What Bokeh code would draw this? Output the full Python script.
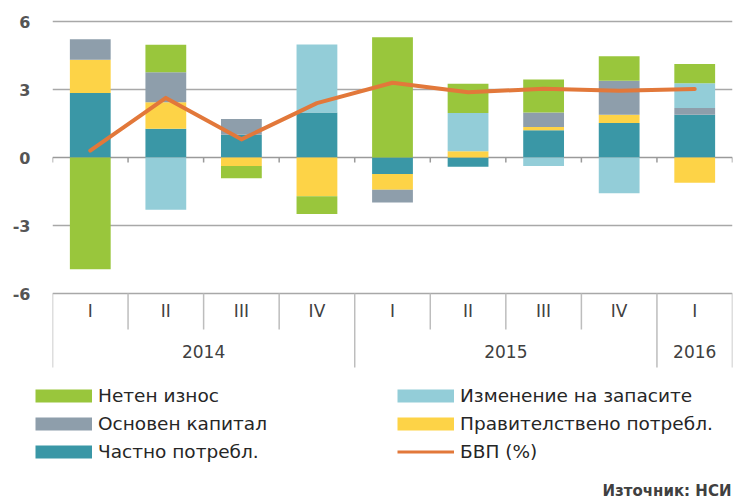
import numpy as np
from bokeh.plotting import figure
from bokeh.layouts import column
from bokeh.models import (FactorRange, Range1d, FixedTicker, Legend, LegendItem,
                          Label, Span, ColumnDataSource)
from bokeh.core.properties import value
from bokeh.embed import file_html
from bokeh.resources import INLINE

# ---------------- data ----------------
years = ["2014", "2014", "2014", "2014", "2015", "2015", "2015", "2015", "2016"]
quarters = ["I", "II", "III", "IV", "I", "II", "III", "IV", "I"]

private_cons = [2.85, 1.27, 1.00, 1.98, -0.73, -0.41, 1.20, 1.52, 1.89]
gov_cons = [1.46, 1.17, -0.38, -1.71, -0.69, 0.28, 0.15, 0.37, -1.11]
fixed_capital = [0.91, 1.32, 0.70, 0.00, -0.56, 0.00, 0.63, 1.50, 0.29]
inventories = [0.00, -2.30, 0.00, 3.00, 0.00, 1.68, -0.37, -1.58, 1.10]
net_exports = [-4.93, 1.21, -0.54, -0.78, 5.31, 1.29, 1.46, 1.08, 0.84]
gdp = [0.30, 2.63, 0.80, 2.40, 3.30, 2.88, 3.03, 2.95, 3.02]

y_ticks = [-6, -3, 0, 3, 6]
y_tick_labels = {-6: "-6", -3: "-3", 0: "0", 3: "3", 6: "6"}

label_private = "Частно потребл."
label_gov = "Правителствено потребл."
label_capital = "Основен капитал"
label_inv = "Изменение на запасите"
label_net = "Нетен износ"
label_gdp = "БВП (%)"
source_text = "Източник: НСИ"

# ---------------- style ----------------
TEAL = "#3a97a6"
YELLOW = "#fdd347"
GRAY = "#8e9eab"
LBLUE = "#93cdd8"
GREEN = "#99c63c"
ORANGE = "#e2783a"
GRID = "#a8a8a8"
BOX = "#bdbdbd"
TXT = "#404040"
FONT = "DejaVu Sans"

PX = 272 / 12.0          # pixels per unit
FRAME_H = 353
y_end = 6 + 2 / PX
y_start = y_end - FRAME_H / PX

factors = list(zip(years, quarters))
xr = FactorRange(factors=factors, group_padding=0, factor_padding=0,
                 subgroup_padding=0, range_padding=0)

p = figure(x_range=xr, y_range=Range1d(y_start, y_end),
           frame_width=680, frame_height=FRAME_H,
           min_border_left=52, min_border_right=1, min_border_top=19,
           min_border_bottom=0, x_axis_location=None,
           toolbar_location=None, output_backend="svg")
p.frame_align = False
p.outline_line_color = None
p.background_fill_color = "white"

# y axis
p.yaxis.ticker = FixedTicker(ticks=y_ticks)
p.yaxis.major_label_overrides = y_tick_labels
p.yaxis.axis_line_color = None
p.yaxis.major_tick_line_color = None
p.yaxis.major_tick_out = 0
p.yaxis.major_tick_in = 0
p.yaxis.minor_tick_line_color = None
p.yaxis.major_label_text_font = FONT
p.yaxis.major_label_text_font_size = "16px"
p.yaxis.major_label_text_font_style = "bold"
p.yaxis.major_label_text_color = "#555555"
p.yaxis.major_label_standoff = 22

p.xgrid.visible = False
p.ygrid.ticker = FixedTicker(ticks=[t for t in y_ticks if t != 0])
p.ygrid.grid_line_color = GRID
p.ygrid.grid_line_width = 1.5

# zero axis line
p.add_layout(Span(location=0, dimension="width", line_color="#9a9a9a",
                  line_width=1.5, level="underlay"))

# ---------------- stacked bars ----------------
series = [(label_private, private_cons, TEAL),
          (label_gov, gov_cons, YELLOW),
          (label_capital, fixed_capital, GRAY),
          (label_inv, inventories, LBLUE),
          (label_net, net_exports, GREEN)]
pos = np.zeros(len(factors))
neg = np.zeros(len(factors))
for name, vals, color in series:
    v = np.array(vals, dtype=float)
    bottom = np.where(v >= 0, pos, neg)
    top = bottom + v
    pos = np.where(v >= 0, top, pos)
    neg = np.where(v < 0, top, neg)
    src = ColumnDataSource(dict(x=factors, bottom=bottom, top=top))
    p.vbar(x="x", bottom="bottom", top="top", width=0.54,
           source=src, fill_color=color, line_color=None)

p.line(x=factors, y=gdp, line_color=ORANGE, line_width=4,
       line_join="round", line_cap="round")

# ---------------- category box ----------------
n = len(factors)
edges = [(years[i], quarters[i], -0.5) for i in range(n)] + [(years[-1], quarters[-1], 0.5)]
p.segment(x0=edges, y0=[0] * len(edges), x1=edges, y1=[-5 / PX] * len(edges),
          line_color="#9a9a9a", line_width=1.5)
q_x, y_x = [], []
for i in range(n + 1):
    if i == 0 or i == n or years[i] != years[i - 1]:
        y_x.append(edges[i])
    else:
        q_x.append(edges[i])
p.segment(x0=q_x, y0=[-6] * len(q_x), x1=q_x, y1=[-6 - 36 / PX] * len(q_x),
          line_color=BOX, line_width=1.5)
p.segment(x0=y_x, y0=[-6] * len(y_x), x1=y_x, y1=[-6 - 74 / PX] * len(y_x),
          line_color=BOX, line_width=1.5)

p.text(x=factors, y=[-6 - 17 / PX] * n, text=quarters, text_align="center",
       text_baseline="middle", text_font=value(FONT), text_font_size="17px",
       text_color=TXT)

uy = []
for y in dict.fromkeys(years):
    idx = [i for i in range(n) if years[i] == y]
    i0, cnt = idx[0], len(idx)
    k = i0 + (cnt - 1) // 2
    off = (i0 + cnt / 2.0) - (k + 0.5)
    uy.append((y, quarters[k], off))
p.text(x=uy, y=[-6 - 58 / PX] * len(uy), text=list(dict.fromkeys(years)),
       text_align="center", text_baseline="middle", text_font=value(FONT),
       text_font_size="17px", text_color=TXT)

# ---------------- legend panel (second figure) ----------------
LEG_H = 126
q = figure(width=733, height=LEG_H, x_range=Range1d(0, 733), y_range=Range1d(0, LEG_H),
           min_border=0, x_axis_location=None, y_axis_location=None,
           toolbar_location=None, output_backend="svg")
q.frame_align = False
q.outline_line_color = None
q.xgrid.visible = False
q.ygrid.visible = False

swatch = {}
for name, vals, color in series:
    swatch[name] = q.line(x=[np.nan], y=[np.nan], line_color=color,
                          line_width=13, line_cap="butt")
gdp_swatch = q.line(x=[np.nan], y=[np.nan], line_color=ORANGE,
                    line_width=3, line_cap="butt")

def make_legend(items, loc):
    lg = Legend(items=items, location=loc, orientation="vertical")
    lg.border_line_color = None
    lg.background_fill_alpha = 0
    lg.padding = 0
    lg.margin = 0
    lg.spacing = 7
    lg.glyph_width = 57
    lg.glyph_height = 15
    lg.label_height = 21
    lg.label_standoff = 6
    lg.label_text_font = FONT
    lg.label_text_font_size = "18.5px"
    lg.label_text_color = "#262626"
    return lg

leg1 = make_legend([LegendItem(label=label_net, renderers=[swatch[label_net]]),
                    LegendItem(label=label_capital, renderers=[swatch[label_capital]]),
                    LegendItem(label=label_private, renderers=[swatch[label_private]])],
                   (35, 36))
leg2 = make_legend([LegendItem(label=label_inv, renderers=[swatch[label_inv]]),
                    LegendItem(label=label_gov, renderers=[swatch[label_gov]]),
                    LegendItem(label=label_gdp, renderers=[gdp_swatch])],
                   (397, 36))
q.add_layout(leg1)
q.add_layout(leg2)

q.add_layout(Label(x=602, y=8, x_units="screen", y_units="screen", text=source_text,
                   text_align="left", text_baseline="middle", text_font=FONT,
                   text_font_size="15px", text_font_style="bold", text_color=TXT))

layout = column(p, q, spacing=0)
open("out.html", "w").write(file_html(layout, INLINE))
